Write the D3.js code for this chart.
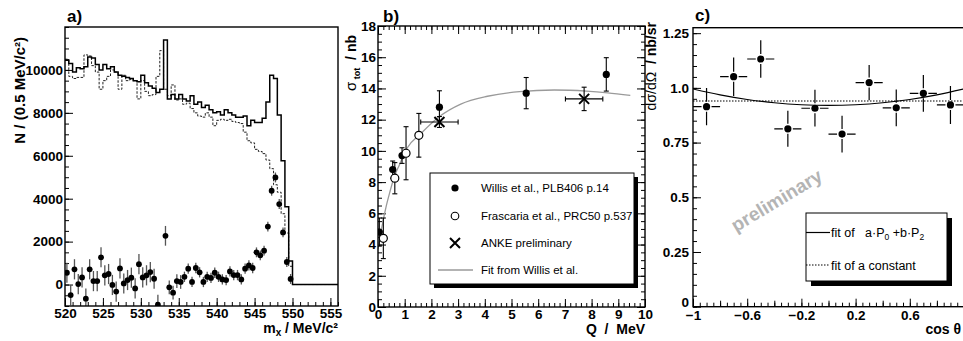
<!DOCTYPE html>
<html>
<head>
<meta charset="utf-8">
<script src="https://cdn.jsdelivr.net/npm/d3@7"></script>
<style>
  body { margin: 0; background: #fff; }
  svg { display: block; }
  text { white-space: pre; }
</style>
</head>
<body>
<svg id="chart" width="963" height="341"></svg>
<script>
// ---- panel a: missing mass spectrum, 0.5 MeV bins from 520 MeV ----
const massBinEdges = d3.range(72).map(i => 520 + 0.5 * i);
const allEvents = [
  10450, 10300, 9900, 10100, 10050, 10150, 10600, 10550, 10250, 10000,
  10250, 10050, 10150, 9900, 9750, 9700, 9650, 9600, 9500, 9450,
  9750, 9400, 9250, 9150, 8950, 9100, 11400, 8650, 8850, 8650,
  8850, 8650, 8550, 8800, 8400, 8500, 8250, 8350, 8150, 8000,
  8050, 7900, 8150, 8000, 7900, 7800, 7800, 7850, 7400, 7650,
  7550, 7550, 7750, 8500, 9750, 9600, 7900, 5770, 3630, 1100,
  0, 0, 0, 0, 0, 0, 0, 0, 0, 0, 0, 0
];
const background = [
  10500, 9700, 9600, 9650, 9650, 10700, 10650, 10200, 9900, 9100,
  9500, 9700, 10000, 9900, 9100, 9750, 9500, 9550, 9500, 8650,
  9500, 9000, 8800, 8850, 9700, 10900, 9100, 8800, 9300, 8600,
  8650, 8400, 8450, 8200, 8000, 7850, 7800, 8000, 7800, 7400,
  7650, 7700, 7650, 7700, 7600, 7550, 7500, 7100, 6700, 6600,
  6300, 6200, 6100, 5800, 5400, 4650, 4300, 3300, 2400, 850,
  0, 0, 0, 0, 0, 0, 0, 0, 0, 0, 0, 0
];
const pointMass = d3.range(60).map(k => 520.25 + 0.5 * k);
const subtracted = [
  550, -490, 710, 20, 330, -660, 710, 160, 160, 1270,
  430, 490, -20, -330, 750, 50, 210, 320, -180, 950,
  330, 430, 580, 270, -940, null, 2270, -130, -380, 160,
  120, 360, 740, 120, 770, 570, 120, 360, 310, 550,
  360, 240, 210, 610, 440, 440, 240, 740, 890, 770,
  1500, 1360, 1580, 2700, 4370, 4990, 3750, 2430, 1050, 260
];
const subtractedErr = [
  470, 470, 470, 470, 470, 470, 470, 470, 470, 470,
  470, 470, 470, 470, 470, 470, 470, 470, 470, 470,
  470, 470, 470, 470, 470, 0, 460, 320, 320, 320,
  320, 240, 240, 240, 240, 240, 240, 240, 240, 240,
  240, 240, 240, 240, 240, 240, 240, 240, 240, 240,
  230, 230, 230, 230, 230, 230, 230, 230, 230, 230
];
const massTicks = [520, 525, 530, 535, 540, 545, 550, 555];
const countTicks = [0, 2000, 4000, 6000, 8000, 10000];

// ---- panel b: total cross section ----
const willisQ = [0.05, 0.55, 0.9, 2.3, 5.55, 8.55];
const willisSigma = [4.8, 8.8, 9.7, 12.8, 13.7, 14.9];
const willisErr = [0.9, 0.55, 0.5, 1.05, 1.0, 1.07];
const frascQ = [0.2, 0.63, 1.05, 1.53];
const frascSigma = [4.4, 8.25, 9.85, 11.0];
const frascErr = [1.3, 1.0, 1.7, 1.4];
const ankeQ = [2.3, 7.72];
const ankeSigma = [11.85, 13.33];
const ankeQErr = [0.7, 0.7];
const ankeSigmaErr = [0.35, 0.75];
const fitQ = [0, 0.1, 0.2, 0.3, 0.45, 0.6, 0.8, 1.1, 1.6, 2.3, 3.1, 4.1, 5.3, 6.6, 7.8, 8.6, 9.45];
const fitSigma = [3.7, 4.7, 5.6, 6.4, 7.4, 8.3, 9.1, 10.2, 11.1, 12.2, 13.0, 13.5, 13.8, 13.9, 13.83, 13.72, 13.55];
const qTicks = [0, 1, 2, 3, 4, 5, 6, 7, 8, 9, 10];
const sigmaTicks = [0, 2, 4, 6, 8, 10, 12, 14, 16, 18];
const legendB = ['Willis et al., PLB406 p.14', 'Frascaria et al., PRC50 p.537', 'ANKE preliminary', 'Fit from Willis et al.'];

// ---- panel c: angular distribution ----
const cosTheta = [-0.9, -0.7, -0.5, -0.3, -0.1, 0.1, 0.3, 0.5, 0.7, 0.9];
const cosHalfBin = [0.1, 0.1, 0.1, 0.1, 0.1, 0.1, 0.1, 0.1, 0.1, 0.1];
const dsdo = [0.914, 1.051, 1.132, 0.813, 0.907, 0.789, 1.024, 0.909, 0.975, 0.922];
const dsdoErr = [0.085, 0.088, 0.086, 0.082, 0.084, 0.084, 0.080, 0.084, 0.084, 0.087];
const fitCos = [-1, -0.8, -0.6, -0.4, -0.2, 0, 0.2, 0.4, 0.6, 0.8, 1];
const fitP0P2 = [0.995, 0.968, 0.947, 0.932, 0.923, 0.92, 0.923, 0.932, 0.947, 0.968, 0.995];
const constFit = 0.94;
const cosTicks = [-1, -0.6, -0.2, 0.2, 0.6, 1];
const cosTickLabels = ['\u22121', '\u22120.6', '\u22120.2', '0.2', '0.6', ''];
const cosMidTicks = [-0.8, -0.4, 0, 0.4, 0.8];
const dsdoTicks = [0, 0.25, 0.5, 0.75, 1.0, 1.25];
const dsdoTickLabels = ['0', '0.25', '0.5', '0.75', '1.0', '1.25'];

const FONT = '"Liberation Sans", Arial, Helvetica, sans-serif';
const svg = d3.select('#chart');

function addAxis(gen, tr, size, values, fmt, pad) {
  const g = svg.append('g').attr('transform', tr)
    .call(gen.tickValues(values).tickSize(size).tickPadding(pad || 2).tickFormat(fmt || (() => '')));
  g.select('.domain').remove();
  g.selectAll('line').attr('stroke', '#000').attr('stroke-width', 1);
  g.selectAll('text')
    .attr('font-size', 13.5).attr('font-weight', 'bold')
    .attr('font-family', FONT).attr('fill', '#000');
  return g;
}

function frame(x0, y0, x1, y1) {
  svg.append('rect')
    .attr('x', x0).attr('y', y0).attr('width', x1 - x0).attr('height', y1 - y0)
    .attr('fill', 'none').attr('stroke', '#000').attr('stroke-width', 1.4);
}

function label(x, y, txt, size, anchor, rot) {
  const t = svg.append('text')
    .attr('transform', `translate(${x},${y})` + (rot ? ` rotate(${rot})` : ''))
    .attr('font-family', FONT).attr('font-weight', 'bold')
    .attr('font-size', size).attr('text-anchor', anchor || 'start');
  if (txt) t.text(txt);
  return t;
}

function clip(id, x0, y0, x1, y1) {
  svg.append('clipPath').attr('id', id).append('rect')
    .attr('x', x0).attr('y', y0).attr('width', x1 - x0).attr('height', y1 - y0);
  return `url(#${id})`;
}

// ================= panel a =================
const xA = d3.scaleLinear([520, 556], [65, 338]);
const yA = d3.scaleLinear([-1000, 12000], [306, 27]);
const clipA = clip('clipA', 65, 27, 338, 306);

addAxis(d3.axisBottom(xA), 'translate(0,306)', -4, d3.range(520, 557, 1));
addAxis(d3.axisBottom(xA), 'translate(0,306)', -8, massTicks, d => d);
addAxis(d3.axisLeft(yA), 'translate(65,0)', -4, d3.range(-1000, 12001, 500));
addAxis(d3.axisLeft(yA), 'translate(65,0)', -8, countTicks, d => d);

const stepLine = d3.line().x(d => xA(d[0])).y(d => yA(d[1])).curve(d3.curveStepAfter);
const toSteps = vals => massBinEdges.map((m, i) => [m, vals[i]]).concat([[556, vals[vals.length - 1]]]);

const gA = svg.append('g').attr('clip-path', clipA);
gA.append('path').attr('d', stepLine(toSteps(background)))
  .attr('fill', 'none').attr('stroke', '#222').attr('stroke-width', 1).attr('stroke-dasharray', '2.5,1.5');
gA.append('path').attr('d', stepLine(toSteps(allEvents)))
  .attr('fill', 'none').attr('stroke', '#000').attr('stroke-width', 1.5);

const ptsA = pointMass.map((m, k) => ({ m, v: subtracted[k], e: subtractedErr[k] })).filter(d => d.v !== null);
gA.selectAll('line.errA').data(ptsA).join('line')
  .attr('x1', d => xA(d.m)).attr('x2', d => xA(d.m))
  .attr('y1', d => yA(d.v - d.e)).attr('y2', d => yA(d.v + d.e))
  .attr('stroke', '#555').attr('stroke-width', 1.3);
gA.selectAll('circle.ptA').data(ptsA).join('circle')
  .attr('cx', d => xA(d.m)).attr('cy', d => yA(d.v)).attr('r', 2.9).attr('fill', '#000');

frame(65, 27, 338, 306);
label(67, 22, 'a)', 17);
label(25, 37, 'N / (0.5 MeV/c²)', 15, 'end', -90);
const xtA = label(338, 333, null, 14, 'end');
xtA.append('tspan').text('m');
xtA.append('tspan').attr('font-size', 10).attr('dy', 3).text('x');
xtA.append('tspan').attr('dy', -3).text(' / MeV/c²');

// ================= panel b =================
const xB = d3.scaleLinear([0, 10], [378, 645]);
const yB = d3.scaleLinear([0, 18], [307, 26]);
const clipB = clip('clipB', 378, 26, 645, 307);

addAxis(d3.axisBottom(xB), 'translate(0,307)', -4, d3.range(0, 10.01, 0.2));
addAxis(d3.axisBottom(xB), 'translate(0,307)', -8, qTicks, d => d);
addAxis(d3.axisTop(xB), 'translate(0,26)', -4, d3.range(0, 10.01, 0.2));
addAxis(d3.axisTop(xB), 'translate(0,26)', -8, qTicks);
addAxis(d3.axisLeft(yB), 'translate(378,0)', -4, d3.range(0, 18.01, 0.5));
addAxis(d3.axisLeft(yB), 'translate(378,0)', -8, sigmaTicks, d => d);
addAxis(d3.axisRight(yB), 'translate(645,0)', -4, d3.range(0, 18.01, 0.5));
addAxis(d3.axisRight(yB), 'translate(645,0)', -8, sigmaTicks);

const gB = svg.append('g').attr('clip-path', clipB);
gB.append('path')
  .attr('d', d3.line().x((d, i) => xB(fitQ[i])).y(d => yB(d)).curve(d3.curveMonotoneX)(fitSigma))
  .attr('fill', 'none').attr('stroke', '#9a9a9a').attr('stroke-width', 1.3);

function vBar(g, x, y0, y1, cap) {
  g.append('line').attr('x1', x).attr('x2', x).attr('y1', y0).attr('y2', y1)
    .attr('stroke', '#000').attr('stroke-width', 1.1);
  [y0, y1].forEach(y => g.append('line').attr('x1', x - cap).attr('x2', x + cap).attr('y1', y).attr('y2', y)
    .attr('stroke', '#000').attr('stroke-width', 1.1));
}
function hBar(g, y, x0, x1, cap) {
  g.append('line').attr('x1', x0).attr('x2', x1).attr('y1', y).attr('y2', y)
    .attr('stroke', '#000').attr('stroke-width', 1.1);
  [x0, x1].forEach(x => g.append('line').attr('x1', x).attr('x2', x).attr('y1', y - cap).attr('y2', y + cap)
    .attr('stroke', '#000').attr('stroke-width', 1.1));
}
function cross(g, x, y, s) {
  g.append('path').attr('d', `M${x - s},${y - s}L${x + s},${y + s}M${x - s},${y + s}L${x + s},${y - s}`)
    .attr('stroke', '#000').attr('stroke-width', 2).attr('fill', 'none');
}

willisQ.forEach((q, i) => vBar(gB, xB(q), yB(willisSigma[i] - willisErr[i]), yB(willisSigma[i] + willisErr[i]), 2.5));
frascQ.forEach((q, i) => vBar(gB, xB(q), yB(frascSigma[i] - frascErr[i]), yB(frascSigma[i] + frascErr[i]), 2.5));
ankeQ.forEach((q, i) => {
  vBar(gB, xB(q), yB(ankeSigma[i] - ankeSigmaErr[i]), yB(ankeSigma[i] + ankeSigmaErr[i]), 2.5);
  hBar(gB, yB(ankeSigma[i]), xB(q - ankeQErr[i]), xB(q + ankeQErr[i]), 2.5);
});
gB.selectAll('circle.w').data(willisQ).join('circle')
  .attr('cx', d => xB(d)).attr('cy', (d, i) => yB(willisSigma[i])).attr('r', 3.6).attr('fill', '#000');
gB.selectAll('circle.f').data(frascQ).join('circle')
  .attr('cx', d => xB(d)).attr('cy', (d, i) => yB(frascSigma[i])).attr('r', 4)
  .attr('fill', '#fff').attr('stroke', '#000').attr('stroke-width', 1.2);
ankeQ.forEach((q, i) => cross(gB, xB(q), yB(ankeSigma[i]), 5));

frame(378, 26, 645, 307);
label(383, 22, 'b)', 17);
const ytB = label(356, 35, null, 14, 'end', -90);
ytB.append('tspan').attr('font-weight', 'normal').attr('font-size', 15).text('σ');
ytB.append('tspan').attr('font-size', 9).attr('dy', 4).text(' tot');
ytB.append('tspan').attr('dy', -4).text('  / nb');
label(645, 334, 'Q  /  MeV', 14, 'end');

// legend b
const lgB = svg.append('g');
lgB.append('rect').attr('x', 434).attr('y', 177).attr('width', 204).attr('height', 111).attr('fill', '#000');
lgB.append('rect').attr('x', 430).attr('y', 173).attr('width', 204).attr('height', 111)
  .attr('fill', '#fff').attr('stroke', '#000').attr('stroke-width', 1);
const rowY = [188, 216, 243, 270];
lgB.append('circle').attr('cx', 455).attr('cy', rowY[0]).attr('r', 3.6).attr('fill', '#000');
lgB.append('circle').attr('cx', 455).attr('cy', rowY[1]).attr('r', 3.8)
  .attr('fill', '#fff').attr('stroke', '#000').attr('stroke-width', 1.1);
cross(lgB, 455, rowY[2], 5);
lgB.append('line').attr('x1', 438).attr('x2', 473).attr('y1', rowY[3]).attr('y2', rowY[3])
  .attr('stroke', '#9a9a9a').attr('stroke-width', 1.3);
lgB.selectAll('text').data(legendB).join('text')
  .attr('x', 481).attr('y', (d, i) => rowY[i] + 4)
  .attr('font-family', FONT).attr('font-size', 11.5).text(d => d);

// ================= panel c =================
const xC = d3.scaleLinear([-1, 1], [693, 964]);
const yC = d3.scaleLinear([0, 1.275], [306.7, 27.7]);
const clipC = clip('clipC', 693, 27.7, 964, 306.7);

addAxis(d3.axisBottom(xC), 'translate(0,306.7)', -4, d3.range(-1, 1.001, 0.05));
addAxis(d3.axisBottom(xC), 'translate(0,306.7)', -6, cosMidTicks);
addAxis(d3.axisBottom(xC), 'translate(0,306.7)', -8, cosTicks, (d, i) => cosTickLabels[i], 4);
addAxis(d3.axisLeft(yC), 'translate(693,0)', -8, dsdoTicks, (d, i) => dsdoTickLabels[i], 4)
  .selectAll('text').filter(d => d === 0).attr('dy', '-0.05em');
addAxis(d3.axisLeft(yC), 'translate(693,0)', -4, d3.range(0, 1.2751, 0.05));

svg.append('text')
  .attr('transform', 'translate(780,206) rotate(-31)')
  .attr('text-anchor', 'middle').attr('font-family', FONT).attr('font-weight', 'bold')
  .attr('font-size', 19).attr('fill', '#b4b4b4').text('preliminary');

const gC = svg.append('g').attr('clip-path', clipC);
gC.append('path')
  .attr('d', d3.line().x((d, i) => xC(fitCos[i])).y(d => yC(d)).curve(d3.curveMonotoneX)(fitP0P2))
  .attr('fill', 'none').attr('stroke', '#000').attr('stroke-width', 1.2);
gC.append('line').attr('x1', xC(-1)).attr('x2', xC(1)).attr('y1', yC(constFit)).attr('y2', yC(constFit))
  .attr('stroke', '#000').attr('stroke-width', 1.1).attr('stroke-dasharray', '1.5,1.5');

cosTheta.forEach((c, i) => {
  const cx = xC(c), cy = yC(dsdo[i]), gap = 5;
  const segs = [
    [cx, yC(dsdo[i] + dsdoErr[i]), cx, cy - gap],
    [cx, cy + gap, cx, yC(dsdo[i] - dsdoErr[i])],
    [xC(c - cosHalfBin[i]), cy, cx - gap, cy],
    [cx + gap, cy, xC(c + cosHalfBin[i]), cy]
  ];
  segs.forEach(s => gC.append('line').attr('x1', s[0]).attr('y1', s[1]).attr('x2', s[2]).attr('y2', s[3])
    .attr('stroke', '#000').attr('stroke-width', 1.2));
});
gC.selectAll('circle.c').data(cosTheta).join('circle')
  .attr('cx', d => xC(d)).attr('cy', (d, i) => yC(dsdo[i])).attr('r', 3.6).attr('fill', '#000');

frame(693, 27.7, 964, 306.7);
label(695, 21, 'c)', 17);
const ytC = label(656, 22, null, 14, 'end', -90);
ytC.append('tspan').attr('font-weight', 'normal').text('dσ/dΩ');
ytC.append('tspan').text('  / nb/sr');
label(961, 334, 'cos θ', 14, 'end');

// legend c
const lgC = svg.append('g');
lgC.append('rect').attr('x', 811).attr('y', 218).attr('width', 141).attr('height', 68).attr('fill', '#000');
lgC.append('rect').attr('x', 806).attr('y', 213).attr('width', 141).attr('height', 68)
  .attr('fill', '#fff').attr('stroke', '#000').attr('stroke-width', 1);
lgC.append('line').attr('x1', 806).attr('x2', 830).attr('y1', 232.5).attr('y2', 232.5)
  .attr('stroke', '#000').attr('stroke-width', 1.2);
lgC.append('line').attr('x1', 806).attr('x2', 830).attr('y1', 265).attr('y2', 265)
  .attr('stroke', '#000').attr('stroke-width', 1.1).attr('stroke-dasharray', '1.5,1.5');
const l1 = lgC.append('text').attr('x', 831).attr('y', 237).attr('font-family', FONT).attr('font-size', 12.5);
l1.append('tspan').text('fit of   a·P');
l1.append('tspan').attr('font-size', 8.5).attr('dy', 3).text('0');
l1.append('tspan').attr('dy', -3).text(' +b·P');
l1.append('tspan').attr('font-size', 8.5).attr('dy', 3).text('2');
lgC.append('text').attr('x', 831).attr('y', 269.5).attr('font-family', FONT).attr('font-size', 12.5)
  .text('fit of a constant');
</script>
</body>
</html>
